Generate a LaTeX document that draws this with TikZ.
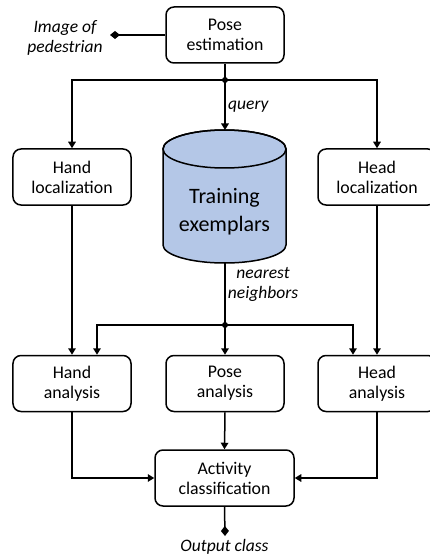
\documentclass[tikz,border=0pt]{standalone}
\usepackage{fontspec}
\setmainfont{Carlito}
\usetikzlibrary{arrows.meta,calc}
\definecolor{dbfill}{HTML}{B4C7E7}
\tikzset{
  box/.style={draw, line width=1.5bp, rounded corners=8bp, minimum width=118bp, minimum height=56bp, align=center, inner sep=0pt, font=\fontsize{17.8bp}{20bp}\selectfont},
  conn/.style={line width=1.5bp},
  arr/.style={conn, -{Triangle[length=6.5bp,width=7.5bp]}},
  lbl/.style={align=center, inner sep=0pt, font=\fontsize{17.5bp}{20bp}\selectfont\itshape},
  dot/.style={circle, fill=black, inner sep=0pt, minimum size=6bp},
  dia/.style={conn, -{Diamond[length=10bp,width=8bp]}},
  diar/.style={conn, {Diamond[length=10bp,width=8bp]}-},
}
\begin{document}
\begin{tikzpicture}[x=1bp, y=-1bp]
\useasboundingbox (0,0) rectangle (429,556);
% nodes
\node[box] (pose) at (225,35) {Pose\\estimation};
\node[box] (handloc) at (72,177) {Hand\\localization};
\node[box] (headloc) at (377,177) {Head\\localization};
\node[box] (handan) at (72,383.5) {Hand\\analysis};
\node[box] (posean) at (225,383.5) {Pose\\analysis};
\node[box] (headan) at (377,383.5) {Head\\analysis};
\node[box, minimum width=139bp] (act) at (224.5,478) {Activity\\classification};
% cylinder
\filldraw[fill=dbfill, line width=1.5bp] (163,149) -- (163,245) arc[start angle=180, end angle=0, x radius=61.5, y radius=18] -- (286,149) arc[start angle=0, end angle=-180, x radius=61.5, y radius=19] -- cycle;
\draw[line width=1.5bp] (224.5,149) ellipse [x radius=61.5, y radius=19];
\node[align=center, inner sep=0pt, font=\fontsize{22bp}{28bp}\selectfont] (db) at (224.5,212) {Training\\exemplars};
\coordinate (dbtop) at (225,130);
\coordinate (dbbot) at (225,263);
% labels
\node[lbl] (img) at (65,38) {Image of\\pedestrian};
\node[lbl, anchor=west] (query) at (228,107) {query};
\node[lbl] (nn) at (263,284) {nearest\\neighbors};
\node[lbl] (out) at (224.5,546.5) {Output class};
\coordinate (imgend) at (110,35);
\coordinate (outend) at (225,536);
% dots
\node[dot] (d1) at (225,80) {};
\node[dot] (d2) at (225,325) {};
% connectors
\draw[diar] (imgend) -- (pose.west);
\draw[conn] (pose.south) -- (d1.center);
\draw[arr] (d1.center) -- (dbtop);
\draw[arr] (d1.center) -| (handloc.north);
\draw[arr] (d1.center) -| (headloc.north);
\draw[arr] (handloc.south) -- (handan.north);
\draw[arr] (headloc.south) -- (headan.north);
\draw[conn] (dbbot) -- (d2.center);
\draw[arr] (d2.center) -- (posean.north);
\draw[arr] (d2.center) -| ([xshift=25bp]handan.north);
\draw[arr] (d2.center) -| ([xshift=-24bp]headan.north);
\draw[arr] (handan.south) |- (act.west);
\draw[arr] (headan.south) |- (act.east);
\draw[arr] (posean.south) -- (act.north);
\draw[dia] (act.south) -- (outend);
\end{tikzpicture}
\end{document}
